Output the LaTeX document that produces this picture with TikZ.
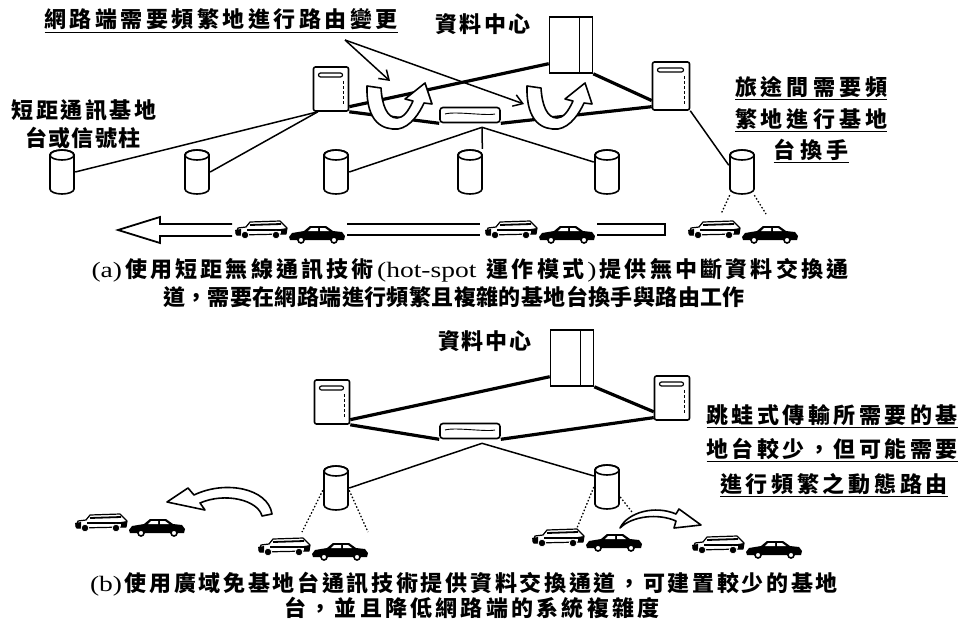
\documentclass[tikz,border=0pt]{standalone}
\usepackage{graphicx}
\usepackage{fontspec}
\setmainfont{Noto Sans CJK TC}
\newfontfamily\latin{Liberation Serif}
\usetikzlibrary{shapes.geometric,arrows.meta}

% stretchable glue between CJK characters, so a line can be spread to a width
\newXeTeXintercharclass\hanclass
\count255="4E00
\loop
  \XeTeXcharclass\count255=\hanclass
  \advance\count255 by 1
\ifnum\count255<"A000 \repeat
\XeTeXcharclass"FF0C=\hanclass
\XeTeXinterchartoks\hanclass\hanclass={\hskip0pt plus 1fil\relax}
\XeTeXinterchartokenstate=1
\newcommand\spread[2]{\makebox[#1pt][s]{#2}}
\newcommand\lineunder[1]{\setbox0\hbox{#1}\leavevmode\vtop{\box0\kern1.5pt\hrule height1.6pt}}
\newcommand\latinpart[1]{{\latin\mdseries\scalebox{1.25}[1]{#1}}}

\tikzset{
  suv/.pic={
    \filldraw[fill=white, line width=1.2pt, line join=round] (1,13) -- (3,8) -- (11,7) -- (15,2) -- (45,1) -- (49,5) -- (52,8) -- (51,14) -- (2,15) -- cycle;
    \draw[line width=1.8pt] (15,5) -- (46,4) (12,10) -- (50,10);
    \fill (0,10) -- (6,9) -- (6,15) -- (1,15) -- cycle;
    \fill (46,9) -- (52,8) -- (51,14) -- (46,14) -- cycle;
    \filldraw[fill=black, draw=white, line width=0.8pt] (10,15) circle (3.8pt) (41,15) circle (3.8pt);
  },
  sedan/.pic={
    \fill (0,11) -- (3,7) -- (15,5) -- (21,0) -- (37,0) -- (44,5) -- (53,6) -- (56,10) -- (55,14) -- (1,14) -- cycle;
    \fill[white] (22,2) -- (29,2) -- (29,5) -- (19,5) -- cycle (31,2) -- (36,2) -- (40,5) -- (31,5) -- cycle;
    \filldraw[fill=white, line width=1.6pt] (12,14) circle (3pt) (45,14) circle (3pt);
  },
  carpair/.pic={\pic {suv}; \pic at (54,6) {sedan};},
  uturn/.pic={
    \draw[turnarrow] (0,3) .. controls (-1,40) and (16,47) .. (31,46) .. controls (44,44) and (53,29) .. (57,20) -- (65,21) -- (58,0) -- (38,16) -- (46,18) .. controls (41,29) and (36,35) .. (30,35) .. controls (20,35) and (15,22) .. (14,5) -- cycle;
  }
}

\begin{document}
\begin{tikzpicture}[x=1pt, y=-1pt,
  txt/.style={inner sep=0pt, anchor=base, font=\fontsize{22pt}{26pt}\selectfont\bfseries},
  server/.style={draw, line width=1.6pt, fill=white, rounded corners=2pt, inner sep=0pt,
    minimum width=35pt, minimum height=44pt,
    path picture={
      \draw[line width=1.2pt] ([xshift=5pt,yshift=-6pt]path picture bounding box.north west) rectangle ([xshift=-6pt,yshift=-10pt]path picture bounding box.north east);
      \draw[line width=0.8pt, dash pattern=on 3pt off 2pt] ([xshift=-5pt,yshift=-14pt]path picture bounding box.north east) -- ([xshift=-5pt,yshift=6pt]path picture bounding box.south east);}},
  tower/.style={draw, line width=1.6pt, fill=white, inner sep=0pt, minimum width=43pt, minimum height=56pt,
    path picture={
      \fill (path picture bounding box.south west) rectangle ([xshift=5pt]path picture bounding box.north west);
      \draw[line width=1.2pt] ([xshift=-13pt]path picture bounding box.north east) -- ([xshift=-13pt]path picture bounding box.south east);
      \fill ([xshift=-11pt,yshift=-8pt]path picture bounding box.north east) rectangle ([xshift=-4pt,yshift=-15pt]path picture bounding box.north east);}},
  switchbox/.style={draw, line width=1.6pt, fill=white, rounded corners=3pt, inner sep=0pt, minimum width=60pt, minimum height=15pt,
    path picture={\draw[line width=0.9pt] ([xshift=5pt,yshift=1pt]path picture bounding box.west) .. controls +(10pt,3pt) and +(-10pt,-2pt) .. ([xshift=-5pt,yshift=1pt]path picture bounding box.east);}},
  % base station mast: a cylinder drawn inside a plain box
  mast/.style={fill=white, inner sep=0pt, minimum width=26pt, minimum height=46pt,
    path picture={
      \coordinate (mastc) at (path picture bounding box.center);
      \filldraw[fill=white, line width=1.6pt] ([shift={(-12pt,17pt)}]mastc) -- ([shift={(-12pt,-17pt)}]mastc)
        arc[start angle=180, end angle=360, x radius=12pt, y radius=5pt] -- ([shift={(12pt,17pt)}]mastc)
        arc[start angle=0, end angle=180, x radius=12pt, y radius=5pt] -- cycle;
      \draw[line width=1.6pt] ([shift={(0pt,17pt)}]mastc) ellipse [x radius=12pt, y radius=5pt];}},
  netlink/.style={line width=3.2pt},
  wireline/.style={line width=1.5pt},
  beamline/.style={line width=1.3pt, dash pattern=on 1.5pt off 2pt},
  callout/.style={line width=1.5pt, -{Straight Barb[length=9pt,width=12pt]}},
  road/.style={line width=1.8pt},
  turnarrow/.style={line width=1.6pt, fill=white, line join=round}]
\useasboundingbox (0,0) rectangle (965,626);

% ===== (a) short range hot-spot network =====
% core: data center, routers and switch
\node[tower] (dcA) at (571,45) {};
\node[server] (lsrvA) at (331,89) {};
\node[server, minimum width=37pt, minimum height=48pt] (rsrvA) at (671,86) {};
\node[switchbox] (swA) at (470,115) {};
\coordinate (hubA) at ([xshift=12pt,yshift=-4pt]swA.south);

% base stations along the road
\foreach \x/\n in {62/1, 197/2, 336/3, 470/4, 607/5, 742/6}
  \node[mast] (stA\n) at (\x,172) {};

% backbone links
\draw[netlink] (lsrvA.-44) -- (dcA.220);
\draw[netlink] (lsrvA.south east) -- (swA.south west);
\draw[netlink] (dcA.south east) -- (rsrvA.217);
\draw[netlink] (swA.south east) -- (rsrvA.227);

% access links
\draw[wireline] (lsrvA.-120) -- (stA1.0);
\draw[wireline] (lsrvA.-120) -- (stA2.0);
\draw[wireline] (hubA) -- (stA3.0);
\draw[wireline] (hubA) -- (stA4.62);
\draw[wireline] (hubA) -- (stA5.143);
\draw[wireline] (rsrvA.south east) -- (stA6.153);

% radio coverage of the last station
\coordinate (beamA1) at (721,214);
\coordinate (beamA2) at (766,214);
\draw[beamline] (stA6.-118) -- (beamA1);
\draw[beamline] (stA6.-62) -- (beamA2);

% road as a hollow arrow, broken by the cars
\draw[road] (232,224) -- (160,224) -- (160,217) -- (118,230) -- (160,243) -- (160,236) -- (232,236);
\draw[road] (347,224) -- (480,224) (347,235) -- (480,235);
\draw[road] (597,224) -- (665,224) -- (665,235) -- (597,235);
\pic at (235,220) {carpair};
\pic at (485,220) {carpair};
\pic at (688,220) {carpair};

% route changes
\pic at (367,83) {uturn};
\pic at (527,83) {uturn};

% labels
\node[txt] (routeA) at (221,28) {\lineunder{\spread{353}{網路端需要頻繁地進行路由變更}}};
\coordinate (fork) at (345,40);
\coordinate (turnA) at (390,81);
\coordinate (turnB) at (524,104);
\draw[callout] (fork) -- (turnA);
\draw[callout] (fork) -- (turnB);
\node[txt] (dcnameA) at (483,33) {\spread{95}{資料中心}};
\node[txt] (spotA1) at (84,118) {\spread{145}{短距通訊基地}};
\node[txt] (spotA2) at (83,146) {\spread{115}{台或信號柱}};
\node[txt] (handA1) at (811,95) {\lineunder{\spread{152}{旅途間需要頻}}};
\node[txt] (handA2) at (811,127) {\lineunder{\spread{152}{繁地進行基地}}};
\node[txt] (handA3) at (811,158) {\lineunder{\spread{75}{台換手}}};
\node[txt] (capA1) at (470,277) {\spread{757}{\latinpart{(a)}\hfil 使用短距無線通訊技術\hfil\latinpart{(hot-spot}\kern7pt\hfil 運作模式\hfil\latinpart{)}\hfil 提供無中斷資料交換通}};
\node[txt] (capA2) at (454,305) {\spread{582}{道，需要在網路端進行頻繁且複雜的基地台換手與路由工作}};

% ===== (b) wide area network without base stations =====
\node[tower] (dcB) at (572,358) {};
\node[server] (lsrvB) at (332,402) {};
\node[server] (rsrvB) at (672,398) {};
\node[switchbox] (swB) at (470,431) {};
\coordinate (hubB) at ([xshift=12pt,yshift=-4pt]swB.south);
\node[mast] (stB1) at (336,488) {};
\node[mast] (stB2) at (607,487) {};

\draw[netlink] (lsrvB.-44) -- (dcB.220);
\draw[netlink] (lsrvB.south east) -- (swB.south west);
\draw[netlink] (dcB.south east) -- (rsrvB.217);
\draw[netlink] (swB.south east) -- (rsrvB.227);
\draw[wireline] (hubB) -- (stB1.0);
\draw[wireline] (hubB) -- (stB2.140);

\coordinate (beamB1) at (302,532);
\coordinate (beamB2) at (368,532);
\coordinate (beamB3) at (577,528);
\coordinate (beamB4) at (632,512);
\draw[beamline] (stB1.190) -- (beamB1);
\draw[beamline] (stB1.-10) -- (beamB2);
\draw[beamline] (stB2.180) -- (beamB3);
\draw[beamline] (stB2.-37) -- (beamB4);

\pic at (75,513) {carpair};
\pic at (258,537) {carpair};
\pic at (532,528) {carpair};
\pic at (692,535) {carpair};

% hops between cars
\draw[turnarrow] (262,516) .. controls (258,500) and (225,492) .. (200,503) -- (205,510) -- (167,502) -- (188,488) -- (194,495) .. controls (225,480) and (268,488) .. (272,514) -- cycle;
\draw[turnarrow] (620,528) .. controls (628,512) and (655,505) .. (676,514) -- (679,509) -- (701,525) -- (674,528) -- (676,521) .. controls (658,513) and (632,516) .. (620,528) -- cycle;

% labels
\node[txt] (dcnameB) at (485,349) {\spread{94}{資料中心}};
\node[txt] (hopB1) at (832,423) {\lineunder{\spread{251}{跳蛙式傳輸所需要的基}}};
\node[txt] (hopB2) at (832,457) {\lineunder{\spread{251}{地台較少，但可能需要}}};
\node[txt] (hopB3) at (834,492) {\lineunder{\spread{228}{進行頻繁之動態路由}}};
\node[txt] (capB1) at (464,591) {\spread{748}{\latinpart{(b)}\hfil 使用廣域免基地台通訊技術提供資料交換通道，可建置較少的基地}};
\node[txt] (capB2) at (472,616) {\spread{375}{台，並且降低網路端的系統複雜度}};
\end{tikzpicture}
\end{document}
